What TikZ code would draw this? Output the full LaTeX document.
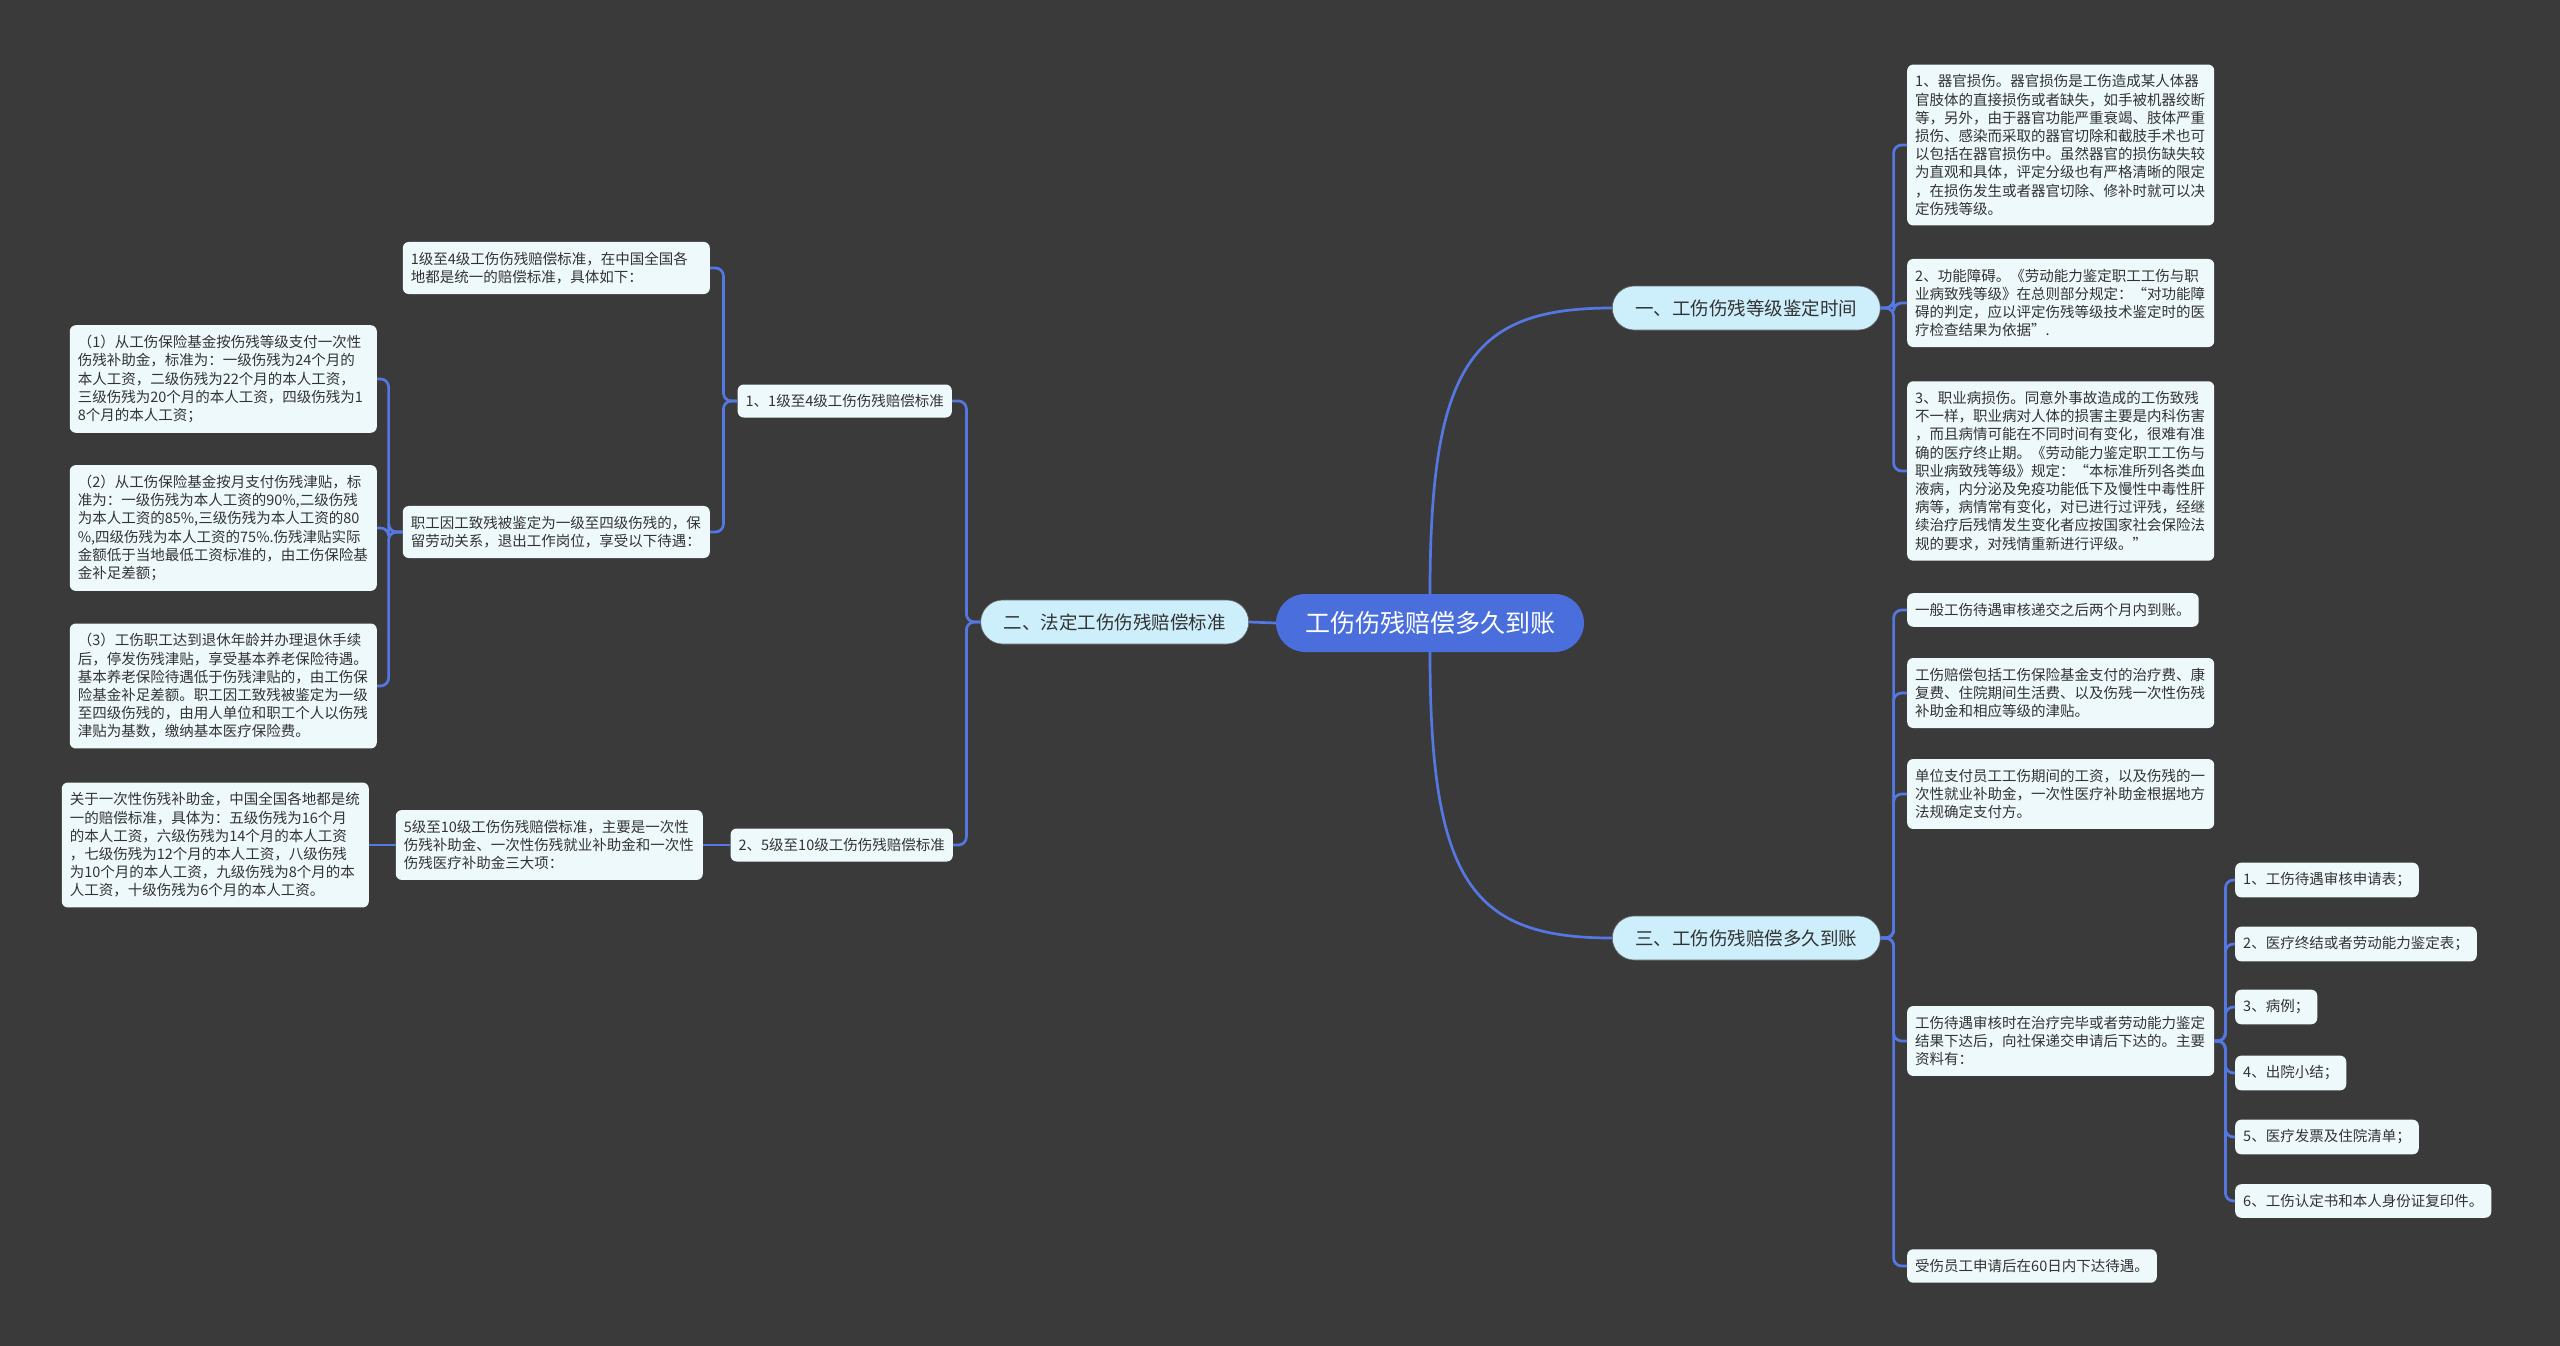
\documentclass[tikz,border=0pt]{standalone}
\usepackage{fontspec}
\setmainfont{Noto Sans CJK SC}
\usepackage{xcolor}

\definecolor{bgdark}{HTML}{3A3A3A}
\definecolor{rootblue}{HTML}{4A6EDC}
\definecolor{branchfill}{HTML}{CDEEFB}
\definecolor{leaffill}{HTML}{EEF9FC}
\definecolor{linkblue}{HTML}{5577E2}
\definecolor{inktext}{HTML}{333333}

\tikzset{
  root/.style={fill=rootblue, text=white, rounded corners=29pt, inner xsep=29pt,
    minimum height=58pt, font=\fontsize{25}{30}\selectfont},
  branch/.style={fill=branchfill, draw=black!60, line width=0.6pt, text=inktext,
    rounded corners=22pt, inner xsep=23pt, minimum height=44pt,
    font=\fontsize{18.5}{22}\selectfont},
  mid/.style={fill=leaffill, text=inktext, rounded corners=6pt, inner xsep=8pt,
    minimum height=33pt, font=\fontsize{14.5}{18}\selectfont},
  leaf/.style={fill=leaffill, text=inktext, rounded corners=6pt, inner xsep=8pt,
    inner ysep=10pt, align=left, font=\fontsize{14.5}{18.2}\selectfont},
  wide/.style={leaf, text width=291pt},
  link/.style={draw=linkblue, line width=2.7pt, rounded corners=8pt},
}

\begin{document}
\begin{tikzpicture}[x=1pt, y=-1pt]
  % Background
  \fill[bgdark] (0,0) rectangle (2560,1346);
  \useasboundingbox (0,0) rectangle (2560,1346);

  % Root
  \node[root] (root) at (1430,623) {工伤伤残赔偿多久到账};

  % Branches
  \node[branch, anchor=west] (one) at (1612,308) {一、工伤伤残等级鉴定时间};
  \node[branch, anchor=east] (two) at (1249,622) {二、法定工伤伤残赔偿标准};
  \node[branch, anchor=west] (three) at (1612,938) {三、工伤伤残赔偿多久到账};

  % Branch one
  \node[wide, anchor=west] (grade1) at (1907,145) {1、器官损伤。器官损伤是工伤造成某人体器\\
官肢体的直接损伤或者缺失，如手被机器绞断\\
等，另外，由于器官功能严重衰竭、肢体严重\\
损伤、感染而采取的器官切除和截肢手术也可\\
以包括在器官损伤中。虽然器官的损伤缺失较\\
为直观和具体，评定分级也有严格清晰的限定\\
，在损伤发生或者器官切除、修补时就可以决\\
定伤残等级。};
  \node[wide, anchor=west] (grade2) at (1907,303) {2、功能障碍。《劳动能力鉴定职工工伤与职\\
业病致残等级》在总则部分规定：“对功能障\\
碍的判定，应以评定伤残等级技术鉴定时的医\\
疗检查结果为依据”.};
  \node[wide, anchor=west] (grade3) at (1907,471) {3、职业病损伤。同意外事故造成的工伤致残\\
不一样，职业病对人体的损害主要是内科伤害\\
，而且病情可能在不同时间有变化，很难有准\\
确的医疗终止期。《劳动能力鉴定职工工伤与\\
职业病致残等级》规定：“本标准所列各类血\\
液病，内分泌及免疫功能低下及慢性中毒性肝\\
病等，病情常有变化，对已进行过评残，经继\\
续治疗后残情发生变化者应按国家社会保险法\\
规的要求，对残情重新进行评级。”};

  % Branch three
  \node[leaf, anchor=west] (pay1) at (1907,610) {一般工伤待遇审核递交之后两个月内到账。};
  \node[wide, anchor=west] (pay2) at (1907,693) {工伤赔偿包括工伤保险基金支付的治疗费、康\\
复费、住院期间生活费、以及伤残一次性伤残\\
补助金和相应等级的津贴。};
  \node[wide, anchor=west] (pay3) at (1907,794) {单位支付员工工伤期间的工资，以及伤残的一\\
次性就业补助金，一次性医疗补助金根据地方\\
法规确定支付方。};
  \node[wide, anchor=west] (pay4) at (1907,1041) {工伤待遇审核时在治疗完毕或者劳动能力鉴定\\
结果下达后，向社保递交申请后下达的。主要\\
资料有：};
  \node[leaf, anchor=west] (pay5) at (1907,1266) {受伤员工申请后在60日内下达待遇。};

  % Documents
  \node[leaf, anchor=west] (doc1) at (2235,880) {1、工伤待遇审核申请表；};
  \node[leaf, anchor=west] (doc2) at (2235,944) {2、医疗终结或者劳动能力鉴定表；};
  \node[leaf, anchor=west] (doc3) at (2235,1007) {3、病例；};
  \node[leaf, anchor=west] (doc4) at (2235,1073) {4、出院小结；};
  \node[leaf, anchor=west] (doc5) at (2235,1137) {5、医疗发票及住院清单；};
  \node[leaf, anchor=west] (doc6) at (2235,1201) {6、工伤认定书和本人身份证复印件。};

  % Branch two
  \node[mid, anchor=east] (std1) at (952,401) {1、1级至4级工伤伤残赔偿标准};
  \node[mid, anchor=east] (std2) at (953,845) {2、5级至10级工伤伤残赔偿标准};

  \node[wide, anchor=east] (high1) at (710,268) {1级至4级工伤伤残赔偿标准，在中国全国各\\
地都是统一的赔偿标准，具体如下：};
  \node[wide, anchor=east] (high2) at (710,532) {职工因工致残被鉴定为一级至四级伤残的，保\\
留劳动关系，退出工作岗位，享受以下待遇：};

  \node[wide, anchor=east] (care1) at (377,379) {（1）从工伤保险基金按伤残等级支付一次性\\
伤残补助金，标准为：一级伤残为24个月的\\
本人工资，二级伤残为22个月的本人工资，\\
三级伤残为20个月的本人工资，四级伤残为1\\
8个月的本人工资；};
  \node[wide, anchor=east] (care2) at (377,528) {（2）从工伤保险基金按月支付伤残津贴，标\\
准为：一级伤残为本人工资的90\%,二级伤残\\
为本人工资的85\%,三级伤残为本人工资的80\\
\%,四级伤残为本人工资的75\%.伤残津贴实际\\
金额低于当地最低工资标准的，由工伤保险基\\
金补足差额；};
  \node[wide, anchor=east] (care3) at (377,686) {（3）工伤职工达到退休年龄并办理退休手续\\
后，停发伤残津贴，享受基本养老保险待遇。\\
基本养老保险待遇低于伤残津贴的，由工伤保\\
险基金补足差额。职工因工致残被鉴定为一级\\
至四级伤残的，由用人单位和职工个人以伤残\\
津贴为基数，缴纳基本医疗保险费。};

  \node[wide, anchor=east] (low1) at (703,845) {5级至10级工伤伤残赔偿标准，主要是一次性\\
伤残补助金、一次性伤残就业补助金和一次性\\
伤残医疗补助金三大项：};
  \node[wide, anchor=east] (low2) at (369,845) {关于一次性伤残补助金，中国全国各地都是统\\
一的赔偿标准，具体为：五级伤残为16个月\\
的本人工资，六级伤残为14个月的本人工资\\
，七级伤残为12个月的本人工资，八级伤残\\
为10个月的本人工资，九级伤残为8个月的本\\
人工资，十级伤残为6个月的本人工资。};

  % Links from root
  \draw[link] (root.north) .. controls +(0,-230) and +(-140,0) .. (one.west);
  \draw[link] (root.south) .. controls +(0,230) and +(-140,0) .. (three.west);
  \draw[link] (root.west) -- (two.east);

  % Links, right side
  \foreach \c in {grade1,grade2,grade3}
    \draw[link] (one.east) -- ++(13,0) |- (\c.west);
  \foreach \c in {pay1,pay2,pay3,pay4,pay5}
    \draw[link] (three.east) -- ++(13,0) |- (\c.west);
  \foreach \c in {doc1,doc2,doc3,doc4,doc5,doc6}
    \draw[link] (pay4.east) -- ++(11,0) |- (\c.west);

  % Links, left side
  \foreach \c in {std1,std2}
    \draw[link] (two.west) -- ++(-14,0) |- (\c.east);
  \foreach \c in {high1,high2}
    \draw[link] (std1.west) -- ++(-14,0) |- (\c.east);
  \foreach \c in {care1,care2,care3}
    \draw[link] (high2.west) -- ++(-14,0) |- (\c.east);
  \draw[link] (std2.west) -- (low1.east);
  \draw[link] (low1.west) -- (low2.east);
\end{tikzpicture}
\end{document}
